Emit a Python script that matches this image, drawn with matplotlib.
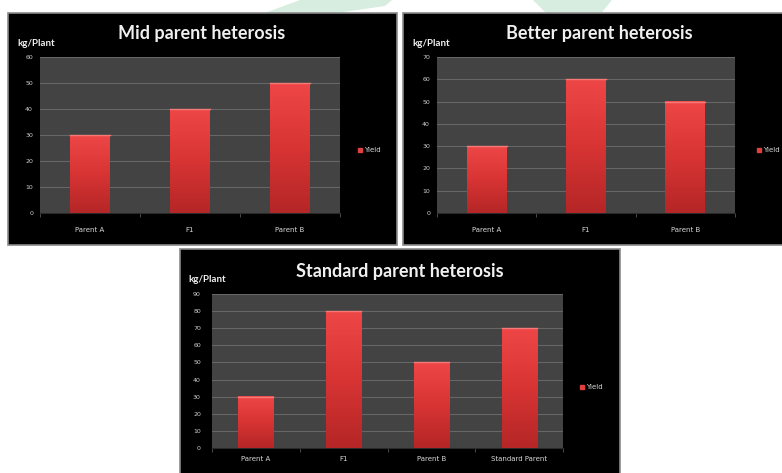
import numpy as np
import matplotlib.pyplot as plt
from matplotlib.patches import Rectangle, Polygon
from matplotlib.colors import LinearSegmentedColormap
from matplotlib.lines import Line2D

W, H = 782, 473

# data
mid_labels = ["Parent A", "F1", "Parent B"]
mid_values = [30, 40, 50]

better_labels = ["Parent A", "F1", "Parent B"]
better_values = [30, 60, 50]

std_labels = ["Parent A", "F1", "Parent B", "Standard Parent"]
std_values = [30, 80, 50, 70]

titles = ["Mid parent heterosis", "Better parent heterosis", "Standard parent heterosis"]
y_max = [60, 70, 90]

bar_cmap = LinearSegmentedColormap.from_list("bar", ["#b52626", "#d83434", "#ee4646"])


def frac(x0, y0, x1, y1):
    # pixel box -> figure fraction rect
    return [x0 / W, 1 - y1 / H, (x1 - x0) / W, (y1 - y0) / H]


fig = plt.figure(figsize=(W / 100, H / 100), dpi=100)
fig.patch.set_facecolor("white")

# faint watermark shapes at the top
for pts in ([(262, 14), (300, 0), (392, 0), (385, 6), (330, 14)],
            [(533, 0), (612, 0), (602, 12), (545, 12)]):
    fig.patches.append(Polygon([(x / W, 1 - y / H) for x, y in pts], closed=True,
                               transform=fig.transFigure, facecolor="#d6ede0",
                               edgecolor="none", zorder=-3))

panels = [
    dict(box=(8, 13, 397, 245), plot=(40, 57, 340, 213), labels=mid_labels, values=mid_values,
         title_xy=(202, 33), kg_xy=(17, 43), leg_xy=(358, 150), xpad=10, ypad=5),
    dict(box=(403, 13, 790, 245), plot=(437, 57, 735, 213), labels=better_labels, values=better_values,
         title_xy=(599, 33), kg_xy=(412, 43), leg_xy=(757, 150), xpad=10, ypad=5),
    dict(box=(180, 249, 620, 480), plot=(212, 294, 563, 448), labels=std_labels, values=std_values,
         title_xy=(400, 271), kg_xy=(188, 279), leg_xy=(580, 387), xpad=6, ypad=8),
]

for i, p in enumerate(panels):
    bx0, by0, bx1, by1 = p["box"]
    fig.patches.append(Rectangle((bx0 / W, 1 - by1 / H), (bx1 - bx0) / W, (by1 - by0) / H,
                                 transform=fig.transFigure, facecolor="black",
                                 edgecolor="#8a8a8a", linewidth=1.2, zorder=-2))

    ax = fig.add_axes(frac(*p["plot"]))
    ax.set_facecolor("#434343")
    n = len(p["labels"])
    x = np.arange(n)
    bars = ax.bar(x, p["values"], width=0.4, color="none", zorder=3)
    grad = np.linspace(0, 1, 100).reshape(-1, 1)
    for b in bars:
        ax.imshow(grad, extent=[b.get_x(), b.get_x() + b.get_width(), 0, b.get_height()],
                  origin="lower", aspect="auto", cmap=bar_cmap, zorder=3)
        ax.plot([b.get_x(), b.get_x() + b.get_width()], [b.get_height()] * 2,
                color="#f47a7a", lw=1, zorder=4)

    ax.set_xlim(-0.5, n - 0.5)
    ax.set_ylim(0, y_max[i])
    ax.set_yticks(np.arange(0, y_max[i] + 1, 10))
    ax.yaxis.grid(True, color="#666666", linewidth=0.8)
    ax.set_axisbelow(True)
    ax.set_xticks(x)
    ax.set_xticklabels(p["labels"], color="#d8d8d8", fontsize=5)
    ax.set_xticks(np.arange(-0.5, n, 1), minor=True)
    ax.tick_params(axis="x", which="major", length=0, pad=p["xpad"])
    ax.tick_params(axis="x", which="minor", length=3, color="#555555")
    ax.tick_params(axis="y", length=0, labelsize=4.5, labelcolor="#cfcfcf", pad=p["ypad"])
    for s in ["top", "right", "left"]:
        ax.spines[s].set_visible(False)
    ax.spines["bottom"].set_color("#2a2a2a")

    tx, ty = p["title_xy"]
    fig.text(tx / W, 1 - ty / H, titles[i], ha="center", va="center",
             family="Lato", fontweight="bold", fontsize=13, color="#f0f0f0", zorder=5)
    kx, ky = p["kg_xy"]
    fig.text(kx / W, 1 - ky / H, "kg/Plant", ha="left", va="center",
             family="Lato", fontweight="bold", fontsize=7, color="#f0f0f0", zorder=5)
    lx, ly = p["leg_xy"]
    handle = Line2D([], [], marker="s", linestyle="none", markersize=3,
                    markerfacecolor="#e04040", markeredgecolor="#e04040")
    leg = ax.legend([handle], ["Yield"], loc="center left",
                    bbox_to_anchor=(lx / W, 1 - ly / H), bbox_transform=fig.transFigure,
                    frameon=False, fontsize=5, handlelength=0.6, handletextpad=0.3,
                    borderpad=0, borderaxespad=0)
    for t in leg.get_texts():
        t.set_color("#d8d8d8")

fig.savefig("out.png", dpi=100, facecolor="white")
